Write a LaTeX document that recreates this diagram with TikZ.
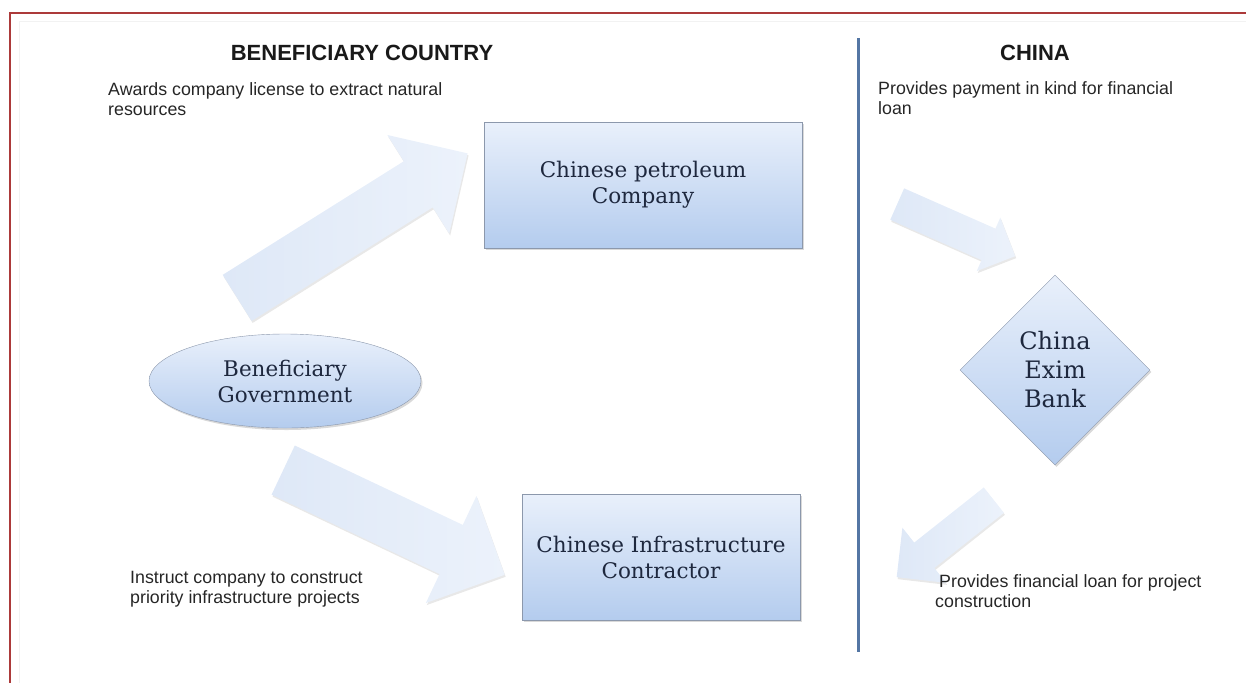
\documentclass[tikz,border=0pt]{standalone}
\usepackage{fontspec}
\setmainfont{DejaVu Serif}
\newfontfamily\notefont{Liberation Sans}
\usepackage{tikz}
\usetikzlibrary{shapes.geometric,shapes.arrows,shadows}
\definecolor{framered}{RGB}{172,58,58}
\definecolor{divblue}{RGB}{84,118,164}
\definecolor{boxtop}{RGB}{233,240,251}
\definecolor{boxbot}{RGB}{180,204,238}
\definecolor{boxline}{RGB}{140,152,172}
\definecolor{inkblue}{RGB}{30,40,62}
\definecolor{arrowtail}{RGB}{222,232,247}
\definecolor{arrowtip}{RGB}{236,242,251}
\definecolor{notegray}{RGB}{38,38,38}

\begin{document}
\begin{tikzpicture}[x=1pt,y=-1pt,
  entity/.style={rectangle,draw=boxline,top color=boxtop,bottom color=boxbot,
                 minimum height=126pt,align=center,
                 font=\fontsize{21.5}{26}\selectfont,text=inkblue,
                 drop shadow={opacity=0.3,shadow xshift=1.5pt,shadow yshift=-2pt}},
  gov/.style={entity,ellipse,minimum width=272pt,minimum height=94pt},
  bank/.style={entity,diamond,minimum width=190pt,minimum height=190pt,
               font=\fontsize{24}{29}\selectfont},
  blockarrow/.style={single arrow,anchor=tail,draw=none,inner sep=0pt,
                     left color=arrowtail,right color=arrowtip,
                     drop shadow={opacity=0.18,shadow xshift=1pt,shadow yshift=-2pt}},
  heading/.style={font=\notefont\bfseries\fontsize{22}{26}\selectfont,text=black!90},
  note/.style={anchor=north west,inner sep=0pt,align=left,
               font=\notefont\fontsize{17.8}{20}\selectfont,text=notegray}
]
\useasboundingbox (0,0) rectangle (1246,683);

% page frame and the line between the two sides
\draw[black!5,line width=1pt] (1246,21) -- (19,21) -- (19,683);
\draw[framered,line width=1.5pt] (1246,13) -- (10,13) -- (10,683);
\draw[divblue,line width=3pt] (858,38) -- (858,652);

% headings
\node[heading,anchor=base] (leftside) at (362,60) {BENEFICIARY COUNTRY};
\node[heading,anchor=base] (rightside) at (1035,60) {CHINA};

% actors
\node[entity,minimum width=318pt] (petroleum) at (643,185) {Chinese petroleum\\Company};
\node[entity,minimum width=278pt] (contractor) at (661,557) {Chinese Infrastructure\\Contractor};
\node[gov] (government) at (285,381) {Beneficiary\\Government};
\node[bank] (exim) at (1055,370) {China\\Exim\\Bank};

% block arrows, placed by their tail (length, half shaft, head extend)
\node[blockarrow,minimum height=272pt,inner ysep=27pt,single arrow head extend=31pt,
      rotate=32.1] (licensearrow) at (237,298) {};
\node[blockarrow,minimum height=245pt,inner ysep=27pt,single arrow head extend=32pt,
      rotate=-25.3] (instructarrow) at (283,470) {};
\node[blockarrow,minimum height=129pt,inner ysep=17pt,single arrow head extend=12pt,
      rotate=-23.8] (paymentarrow) at (897,204) {};
\node[blockarrow,minimum height=124pt,inner ysep=16pt,single arrow head extend=19pt,
      rotate=218.4] (loanarrow) at (994,500) {};

% notes
\node[note] (licensenote) at (108,82) {Awards company license to extract natural\\resources};
\node[note] (instructnote) at (130,571) {Instruct company to construct\\priority infrastructure projects};
\node[note] (paymentnote) at (878,81) {Provides payment in kind for financial\\loan};
\node[note] (loannote) at (935,574) {\hspace{4pt}Provides financial loan for project\\construction};
\end{tikzpicture}
\end{document}
